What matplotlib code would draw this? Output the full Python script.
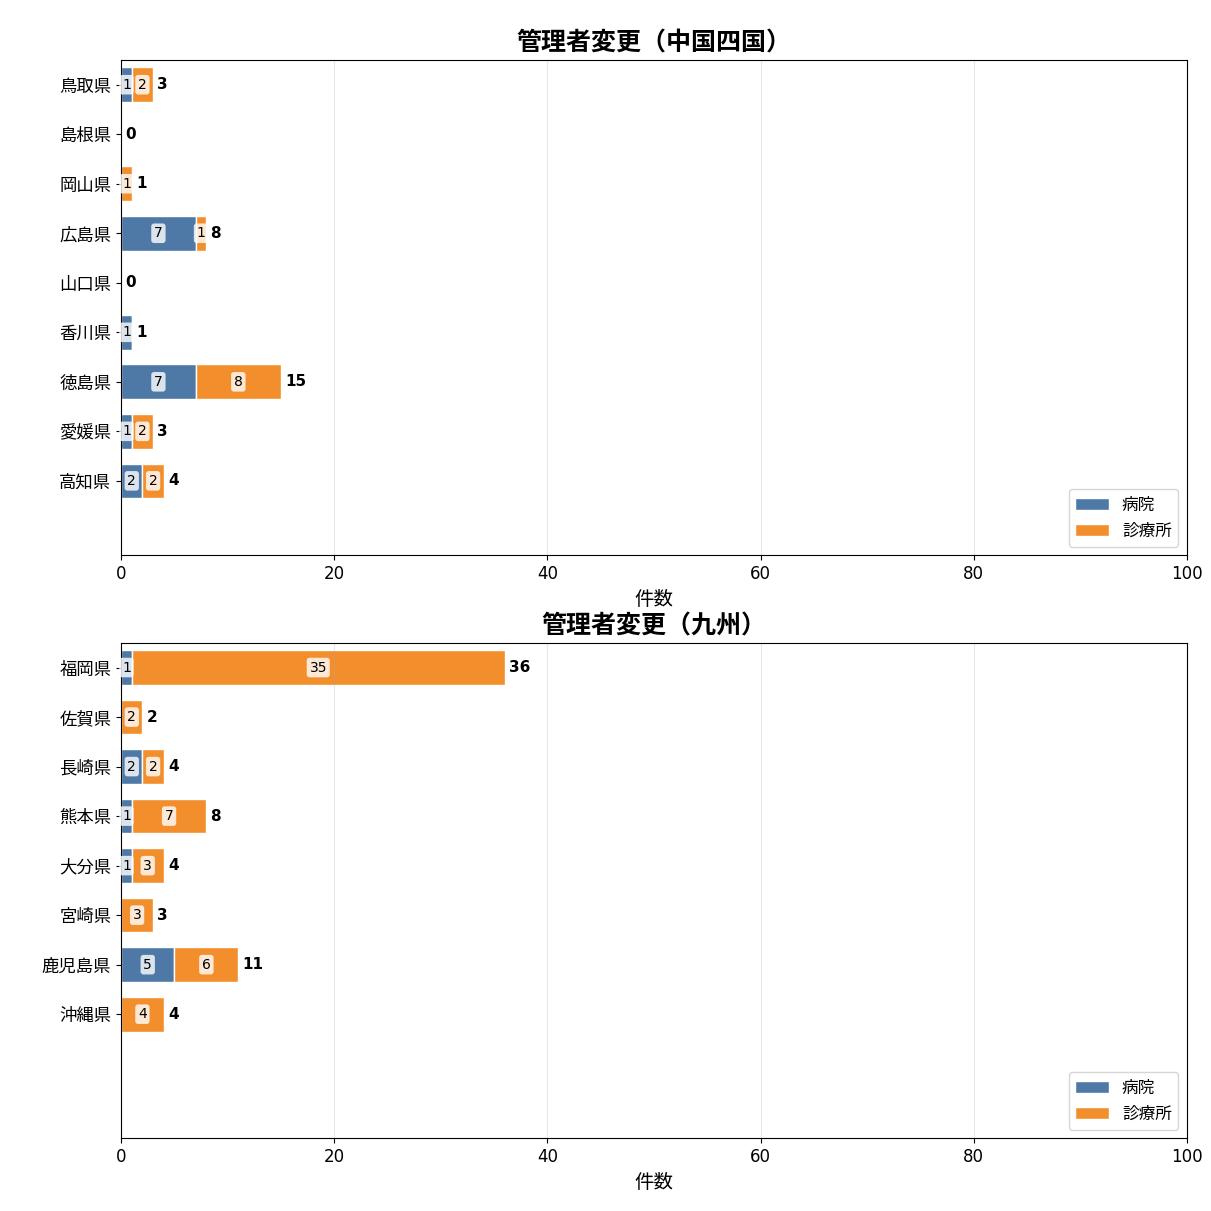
import matplotlib

matplotlib.use("Agg")
import matplotlib.pyplot as plt

plt.rcParams["font.family"] = ["DejaVu Sans", "Noto Sans CJK JP"]

# 中国四国
cs_prefs = ["鳥取県", "島根県", "岡山県", "広島県", "山口県", "香川県", "徳島県", "愛媛県", "高知県"]
cs_hospital = [1, 0, 0, 7, 0, 1, 7, 1, 2]
cs_clinic = [2, 0, 1, 1, 0, 0, 8, 2, 2]

# 九州
ky_prefs = ["福岡県", "佐賀県", "長崎県", "熊本県", "大分県", "宮崎県", "鹿児島県", "沖縄県"]
ky_hospital = [1, 0, 2, 1, 1, 0, 5, 0]
ky_clinic = [35, 2, 2, 7, 3, 3, 6, 4]

BLUE = "#4e79a7"
ORANGE = "#f28e2b"


def draw_panel(ax, prefs, hospital, clinic, title):
    y = list(range(len(prefs)))
    b1 = ax.barh(y, hospital, height=0.7, color=BLUE, edgecolor="white", linewidth=1, label="病院")
    b2 = ax.barh(y, clinic, height=0.7, left=hospital, color=ORANGE, edgecolor="white",
                 linewidth=1, label="診療所")
    box = dict(boxstyle="round,pad=0.2", facecolor="white", edgecolor="none", alpha=0.8)
    for bars in (b1, b2):
        labels = [str(int(v)) if v > 0 else "" for v in bars.datavalues]
        texts = ax.bar_label(bars, labels=labels, label_type="center", fontsize=10)
        for t in texts:
            if t.get_text():
                t.set_bbox(box)
    for yi, h, c in zip(y, hospital, clinic):
        ax.text(h + c + 0.4, yi, str(h + c), va="center", ha="left", fontsize=11, fontweight="bold")
    ax.set_xlim(0, 100)
    ax.set_ylim(9.5, -0.5)
    ax.set_yticks(y)
    ax.set_yticklabels(prefs, fontsize=12.5)
    ax.tick_params(axis="x", labelsize=12)
    ax.set_xlabel("件数", fontsize=14, labelpad=5)
    ax.set_title(title, fontsize=18, fontweight="bold", pad=7)
    ax.grid(True, axis="x", color="#b0b0b0", alpha=0.3, linewidth=0.8)
    ax.legend(loc="lower right", fontsize=12)


fig, (ax1, ax2) = plt.subplots(2, 1, figsize=(12.11, 12.11), dpi=100)
fig.subplots_adjust(left=0.1, right=0.98, top=0.9505, bottom=0.0603, hspace=0.177)
draw_panel(ax1, cs_prefs, cs_hospital, cs_clinic, "管理者変更（中国四国）")
draw_panel(ax2, ky_prefs, ky_hospital, ky_clinic, "管理者変更（九州）")
fig.savefig("out.png", dpi=100)
